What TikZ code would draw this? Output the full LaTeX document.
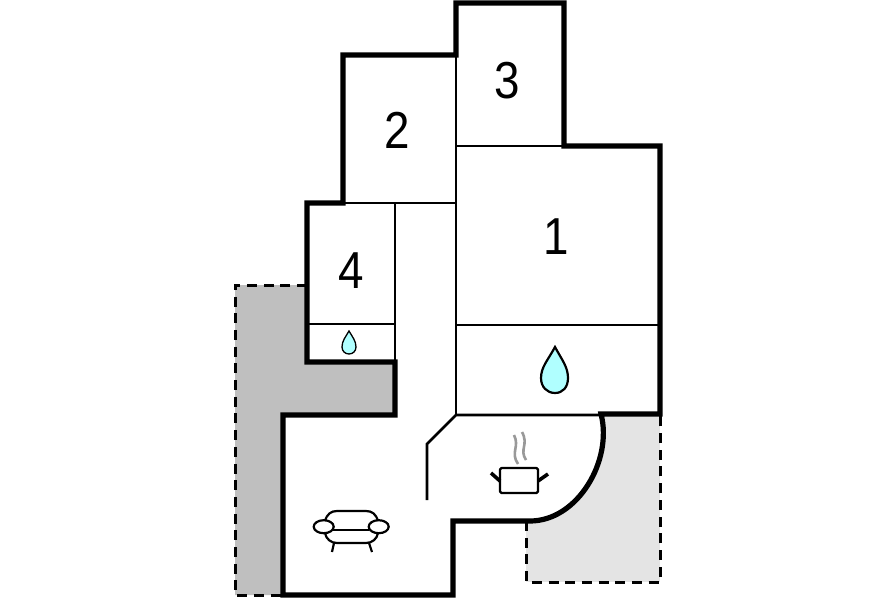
\documentclass[tikz,border=0pt]{standalone}
\usepackage{fontspec}
\setmainfont{Liberation Sans}
\definecolor{darkterr}{HTML}{BFBFBF}
\definecolor{lightterr}{HTML}{E4E4E4}
\definecolor{water}{HTML}{B0FFFF}
\tikzset{
 wall/.style={line width=5.2pt,line join=miter,line cap=butt},
 thin wall/.style={line width=2.6pt},
 border/.style={line width=3pt,dash pattern=on 10pt off 6.7pt},
 icon/.style={line width=2.2pt,line join=round},
 steam/.style={line width=2.6pt,color=gray!80},
 number/.style={font=\fontsize{52}{52}\selectfont,inner sep=0pt,xscale=0.88}
}
\begin{document}
\begin{tikzpicture}[x=1pt,y=-1pt]
\useasboundingbox (0,0) rectangle (896,597);
% terraces
\fill[darkterr] (235,285) -- (307,285) -- (307,362) -- (395,362) -- (395,415) -- (283,415) -- (283,595) -- (235,595) -- cycle;
\fill[lightterr] (526,414) rectangle (660,582);
\draw[border] (307,285) -- (235,285) -- (235,595) -- (283,595);
\draw[border] (526,521) -- (526,582) -- (660,582) -- (660,414);
% room interior
\fill[white] (456,414) -- (601,414) .. controls (613,460) and (578,521) .. (530,521) -- (453,521) -- (453,400) -- cycle;
% thin walls
\draw[thin wall] (456,55) -- (456,415);
\draw[thin wall] (456,146) -- (564,146);
\draw[thin wall] (456,325) -- (660,325);
\draw[thin wall] (427,500) -- (427,444) -- (456,415) -- (601,415);
\draw[thin wall] (307,203) -- (456,203);
\draw[thin wall] (395,203) -- (395,362);
\draw[thin wall] (307,324) -- (395,324);
% outer walls
\draw[wall] (283,595) -- (283,415) -- (395,415) -- (395,362) -- (307,362) -- (307,203) -- (343,203) -- (343,55) -- (456,55) -- (456,3) -- (564,3) -- (564,146) -- (660,146) -- (660,414) -- (601,414) .. controls (613,460) and (578,521) .. (530,521) -- (453,521) -- (453,595) -- cycle;
% numbers
\node[number] (n1) at (556,236.5) {1};
\node[number] (n2) at (397.5,130) {2};
\node[number] (n3) at (507.5,81) {3};
\node[number] (n4) at (351.5,270.5) {4};
% drops
\draw[fill=water,line width=2.2pt] (555,347) .. controls (548,360) and (541,367) .. (541,378) .. controls (541,387) and (547,393) .. (555,393) .. controls (563,393) and (568,387) .. (568,378) .. controls (568,367) and (562,360) .. (555,347) -- cycle;
\draw[fill=water,line width=1.3pt] (349,331) .. controls (345.5,337) and (342,341) .. (342,347) .. controls (342,351) and (345,354) .. (349,354) .. controls (353,354) and (356,351) .. (356,347) .. controls (356,341) and (352.5,337) .. (349,331) -- cycle;
% pot
\draw[icon,rounded corners=1.5pt] (500,468) rectangle (538,493);
\draw[line width=3.6pt] (491,473) -- (500,481);
\draw[line width=3.6pt] (548,474) -- (538,481);
\draw[steam] (518,464) .. controls (510,452) and (520,447) .. (514,435);
\draw[steam] (526,460) .. controls (519,449) and (529,445) .. (522,432);
% sofa
\draw[icon] (325,521) .. controls (327,514) and (331,511) .. (337,511) -- (366,511) .. controls (372,511) and (376,514) .. (378,521);
\draw[icon] (333,530) -- (369,530);
\draw[icon] (325,533) .. controls (326,539) and (331,543) .. (337,543) -- (366,543) .. controls (372,543) and (377,539) .. (378,533);
\draw[icon] (334,543) -- (332,552);
\draw[icon] (369,543) -- (372,552);
\draw[icon,fill=white] (323.7,526.7) ellipse [x radius=10,y radius=6.5];
\draw[icon,fill=white] (378.7,526.7) ellipse [x radius=10,y radius=6.5];
\end{tikzpicture}
\end{document}
